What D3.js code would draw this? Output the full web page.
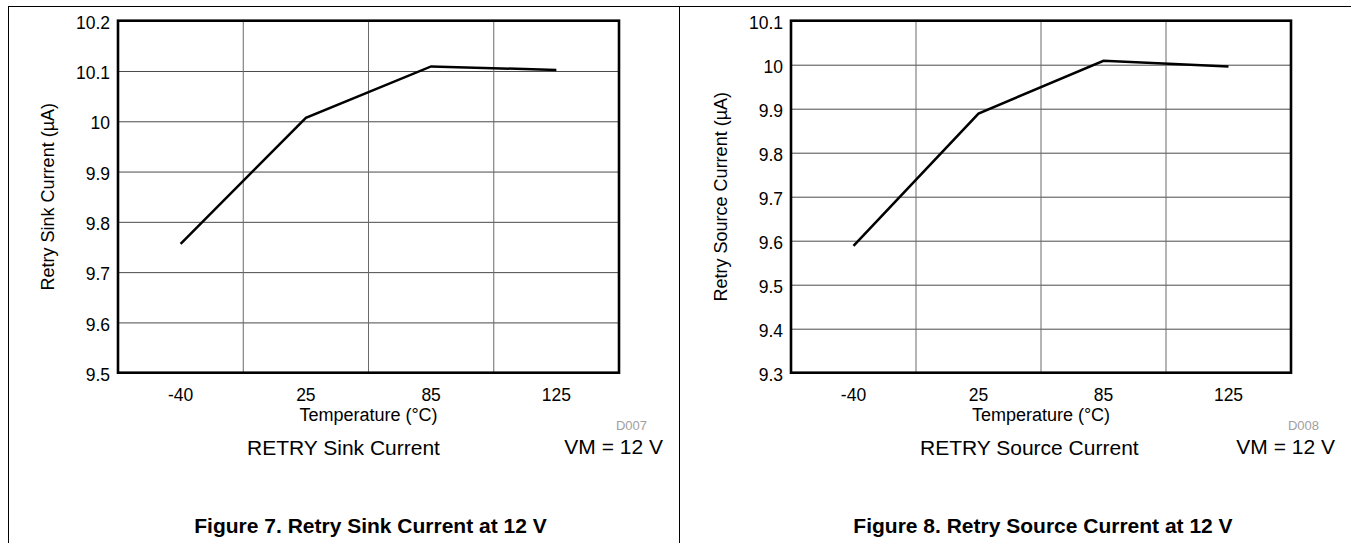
<!DOCTYPE html>
<html>
<head>
<meta charset="utf-8">
<script src="https://cdn.jsdelivr.net/npm/d3@7"></script>
<style>
body { margin: 0; background: #ffffff; }
svg { display: block; }
text { font-family: "Liberation Sans", Arial, sans-serif; fill: #000000; }
</style>
</head>
<body>
<div id="chart"></div>
<script>

// ---DATA---//

var temperatures = [ "-40", "25", "85", "125" ];

var sinkCurrent = [ 9.756, 10.007, 10.109, 10.102 ];
var sourceCurrent = [ 9.588, 9.889, 10.009, 9.996 ];

var sinkTicks = [ 9.5, 9.6, 9.7, 9.8, 9.9, 10.0, 10.1, 10.2 ];
var sourceTicks = [ 9.3, 9.4, 9.5, 9.6, 9.7, 9.8, 9.9, 10.0, 10.1 ];

var panels = [ {
	plotLeft : 118,
	plotRight : 619,
	values : sinkCurrent,
	ticks : sinkTicks,
	yTitle : "Retry Sink Current (\u00B5A)",
	code : "D007",
	condition : "RETRY Sink Current",
	caption : "Figure 7. Retry Sink Current at 12 V"
}, {
	plotLeft : 791,
	plotRight : 1291,
	values : sourceCurrent,
	ticks : sourceTicks,
	yTitle : "Retry Source Current (\u00B5A)",
	code : "D008",
	condition : "RETRY Source Current",
	caption : "Figure 8. Retry Source Current at 12 V"
} ];

// ---LAYOUT---//

var width = 1351;
var height = 543;
var plotTop = 20.7;
var plotBottom = 372.7;

var svg = d3.select("#chart").append("svg") //
.attr("width", width) //
.attr("height", height);

// outer frame
svg.append("line").attr("x1", 8).attr("x2", width).attr("y1", 6.5).attr("y2", 6.5)
		.attr("stroke", "black").attr("stroke-width", 1);
svg.append("line").attr("x1", 8.5).attr("x2", 8.5).attr("y1", 6).attr("y2", height)
		.attr("stroke", "black").attr("stroke-width", 1);
svg.append("line").attr("x1", 679.5).attr("x2", 679.5).attr("y1", 6).attr("y2", height)
		.attr("stroke", "black").attr("stroke-width", 1);

panels.forEach(function(p) {
	drawPanel(p);
});

function drawPanel(p) {

	var g = svg.append("g").attr("class", "panel");

	var x = d3.scaleBand().domain(temperatures).range([ p.plotLeft, p.plotRight ])
			.padding(0);

	var y = d3.scaleLinear().domain([ p.ticks[0], p.ticks[p.ticks.length - 1] ])
			.range([ plotBottom, plotTop ]);

	var plotWidth = p.plotRight - p.plotLeft;

	// horizontal grid + tick labels
	var yAxis = d3.axisLeft(y) //
	.tickValues(p.ticks) //
	.tickSizeInner(-plotWidth) //
	.tickSizeOuter(0) //
	.tickPadding(8) //
	.tickFormat(function(d) {
		return String(+d.toFixed(1));
	});

	var yG = g.append("g").attr("transform", "translate(" + p.plotLeft + ",0)")
			.call(yAxis);
	yG.select(".domain").remove();
	yG.selectAll("line").attr("stroke", "#4a4a4a").attr("stroke-width", 1);
	yG.selectAll("text").attr("font-size", "17.5px").attr("dy", "0.44em")
			.attr("font-family", "Liberation Sans, Arial, sans-serif");

	// vertical grid at category boundaries
	g.selectAll(".vgrid").data(temperatures.slice(1)).enter().append("line") //
	.attr("class", "vgrid") //
	.attr("x1", function(d) {
		return x(d);
	}) //
	.attr("x2", function(d) {
		return x(d);
	}) //
	.attr("y1", plotTop) //
	.attr("y2", plotBottom) //
	.attr("stroke", "#6a6a6a") //
	.attr("stroke-width", 1);

	// x tick labels
	var xAxis = d3.axisBottom(x).tickSize(0).tickPadding(16.3);
	var xG = g.append("g").attr("transform", "translate(0," + plotBottom + ")")
			.call(xAxis);
	xG.select(".domain").remove();
	xG.selectAll("text").attr("font-size", "17.5px")
			.attr("font-family", "Liberation Sans, Arial, sans-serif");

	// plot frame
	g.append("rect") //
	.attr("x", p.plotLeft) //
	.attr("y", plotTop) //
	.attr("width", plotWidth) //
	.attr("height", plotBottom - plotTop) //
	.attr("fill", "none") //
	.attr("stroke", "black") //
	.attr("stroke-width", 2.6);

	// data line
	var line = d3.line() //
	.x(function(d, i) {
		return x(temperatures[i]) + x.bandwidth() / 2;
	}) //
	.y(function(d) {
		return y(d);
	});

	g.append("path") //
	.datum(p.values) //
	.attr("d", line) //
	.attr("fill", "none") //
	.attr("stroke", "black") //
	.attr("stroke-width", 2.5) //
	.attr("stroke-linejoin", "miter");

	var plotCenter = (p.plotLeft + p.plotRight) / 2;

	// axis titles
	g.append("text") //
	.attr("transform", "translate(" + (p.plotLeft - 64) + "," + ((plotTop + plotBottom) / 2) + ") rotate(-90)") //
	.attr("text-anchor", "middle") //
	.attr("font-size", "18px") //
	.text(p.yTitle);

	g.append("text") //
	.attr("x", plotCenter) //
	.attr("y", 420.5) //
	.attr("text-anchor", "middle") //
	.attr("font-size", "18px") //
	.text("Temperature (\u00B0C)");

	// figure code
	g.append("text") //
	.attr("x", p.plotRight + 28) //
	.attr("y", 430) //
	.attr("text-anchor", "end") //
	.attr("font-size", "13px") //
	.style("fill", "#a0a0a0") //
	.text(p.code);

	// conditions
	g.append("text") //
	.attr("x", p.plotLeft + 129) //
	.attr("y", 455) //
	.attr("font-size", "21px") //
	.text(p.condition);

	g.append("text") //
	.attr("x", p.plotRight + 44) //
	.attr("y", 454) //
	.attr("text-anchor", "end") //
	.attr("font-size", "21px") //
	.text("VM = 12 V");

	// caption
	g.append("text") //
	.attr("x", plotCenter + 2) //
	.attr("y", 533) //
	.attr("text-anchor", "middle") //
	.attr("font-size", "21px") //
	.attr("font-weight", "bold") //
	.text(p.caption);

}// END: drawPanel

</script>
</body>
</html>
